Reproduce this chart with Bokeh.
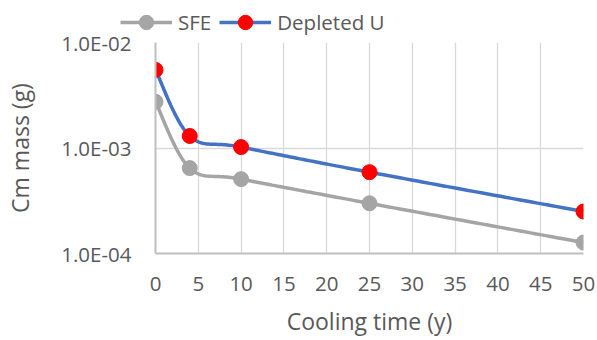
import numpy as np
from bokeh.plotting import figure
from bokeh.layouts import column
from bokeh.models import (FixedTicker, CustomJSTickFormatter, Legend, LegendItem, Range1d)
from bokeh.embed import file_html
from bokeh.resources import INLINE

# ---- data ----
cooling_time = [0, 4, 10, 25, 50]
sfe = [2.74e-3, 6.45e-4, 5.07e-4, 2.99e-4, 1.27e-4]
depleted_u = [5.5e-3, 1.3e-3, 1.02e-3, 5.9e-4, 2.5e-4]
x_ticks = [0, 5, 10, 15, 20, 25, 30, 35, 40, 45, 50]
y_ticks = [1e-4, 1e-3, 1e-2]
series_names = ["SFE", "Depleted U"]

FONT = "Open Sans"
TXT = "#595959"
GRAY = "#A5A5A5"
BLUE = "#4472C4"
RED = "#FF0000"

W = 597
LEG_H = 40
OVERLAP = 24
H = 340 - LEG_H + OVERLAP
ML, MR, MT, MB = 155, 14, 42 - LEG_H + OVERLAP, 87
FW, FH = W - ML - MR, H - MT - MB


def smooth(xs, ys, n=40):
    # Excel-like smoothed line (cardinal Bezier) computed in screen-proportional space
    sx = FW / 50.0
    sy = FH / 2.0
    P = np.array([[x * sx, np.log10(y) * sy] for x, y in zip(xs, ys)])
    out = []
    m = len(P)
    for i in range(m - 1):
        p0, p3 = P[i], P[i + 1]
        pm = P[i - 1] if i > 0 else P[i]
        pp = P[i + 2] if i + 2 < m else P[i + 1]
        p1 = p0 + (p3 - pm) / 6.0
        p2 = p3 - (pp - p0) / 6.0
        t = np.linspace(0, 1, n)[:, None]
        seg = ((1 - t) ** 3) * p0 + 3 * ((1 - t) ** 2) * t * p1 + 3 * (1 - t) * t ** 2 * p2 + t ** 3 * p3
        if i > 0:
            seg = seg[1:]
        out.append(seg)
    c = np.vstack(out)
    return c[:, 0] / sx, 10 ** (c[:, 1] / sy)


p = figure(width=W, height=H, y_axis_type="log", output_backend="svg",
           toolbar_location=None, x_range=Range1d(0, 50), y_range=Range1d(1e-4, 1e-2),
           min_border_left=ML, min_border_right=MR, min_border_top=MT, min_border_bottom=MB)
p.outline_line_color = None
p.background_fill_color = "white"
p.border_fill_color = None
p.margin = (-OVERLAP, 0, 0, 0)

# grid
p.xgrid.ticker = FixedTicker(ticks=x_ticks)
p.ygrid.ticker = FixedTicker(ticks=y_ticks)
for g in (p.xgrid[0], p.ygrid[0]):
    g.grid_line_color = "#D9D9D9"
    g.grid_line_width = 1.3
p.ygrid.minor_grid_line_color = None

# axes
p.xaxis.ticker = FixedTicker(ticks=x_ticks)
p.yaxis.ticker = FixedTicker(ticks=y_ticks)
p.yaxis.formatter = CustomJSTickFormatter(code="""
const s = tick.toExponential(1).toUpperCase();
const parts = s.split('E');
let e = parts[1];
let sign = e[0] === '-' ? '-' : '+';
let d = e.replace('-', '').replace('+', '');
if (d.length < 2) d = '0' + d;
return parts[0] + 'E' + sign + d;
""")
for ax in (p.xaxis[0], p.yaxis[0]):
    ax.axis_line_color = "#BFBFBF"
    ax.axis_line_width = 2
    ax.major_tick_line_color = None
    ax.minor_tick_line_color = None
    ax.major_label_text_font = FONT
    ax.major_label_text_font_size = "20.5px"
    ax.major_label_text_color = TXT
    ax.axis_label_text_font = FONT
    ax.axis_label_text_font_size = "23px"
    ax.axis_label_text_color = TXT
    ax.axis_label_text_font_style = "normal"

p.xaxis.axis_label = "Cooling time (y)"
p.yaxis.axis_label = "Cm mass (g)"
p.xaxis.major_label_standoff = 17
p.xaxis.axis_label_standoff = 11
p.yaxis.major_label_standoff = 18
p.yaxis.axis_label_standoff = 22

# series
sx_, sy_ = smooth(cooling_time, sfe)
p.line(sx_, sy_, line_color=GRAY, line_width=3.5)
p.scatter(cooling_time, sfe, size=15, fill_color=GRAY, line_color=GRAY)
dx_, dy_ = smooth(cooling_time, depleted_u)
p.line(dx_, dy_, line_color=BLUE, line_width=3.5)
p.scatter(cooling_time, depleted_u, size=15, fill_color=RED, line_color=RED)

# legend strip above the plot
lg = figure(width=W, height=LEG_H, output_backend="svg", toolbar_location=None,
            x_range=Range1d(0, 1), y_range=Range1d(0, 1),
            min_border_left=0, min_border_right=0, min_border_top=0, min_border_bottom=0)
lg.axis.visible = False
lg.grid.visible = False
lg.outline_line_color = None
lg.border_fill_color = "white"
for fig in (lg, p):
    try:
        fig.frame_align = False
    except Exception:
        pass
r1 = lg.line([-5, -4], [-5, -4], line_color=GRAY, line_width=3.5)
s1 = lg.scatter([-5], [-5], size=15, fill_color=GRAY, line_color=GRAY)
r2 = lg.line([-5, -4], [-5, -4], line_color=BLUE, line_width=3.5)
s2 = lg.scatter([-5], [-5], size=15, fill_color=RED, line_color=RED)
legend = Legend(items=[LegendItem(label=series_names[0], renderers=[r1, s1]),
                       LegendItem(label=series_names[1], renderers=[r2, s2])],
                orientation="horizontal", location=(120, 0),
                padding=0, margin=0, spacing=8, label_standoff=6,
                glyph_width=52, glyph_height=36, label_height=36,
                label_text_font=FONT, label_text_font_size="20.5px",
                label_text_color=TXT, border_line_color=None,
                background_fill_alpha=0)
lg.add_layout(legend, "center")

layout = column(lg, p, spacing=0)
open("out.html", "w").write(file_html(layout, INLINE))
